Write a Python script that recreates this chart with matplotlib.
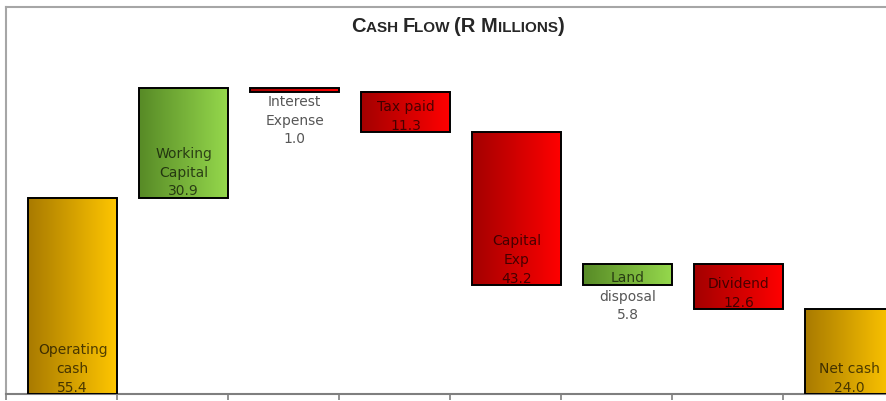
import matplotlib
matplotlib.use("Agg")
import matplotlib.pyplot as plt
import numpy as np
from matplotlib.colors import to_rgb
from matplotlib.offsetbox import TextArea, HPacker, AnnotationBbox

# data
labels = ["Operating\ncash", "Working\nCapital", "Interest\nExpense", "Tax paid",
          "Capital\nExp", "Land\ndisposal", "Dividend", "Net cash"]
values = [55.4, 30.9, -1.0, -11.3, -43.2, 5.8, -12.6, 24.0]
kinds = ["total", "up", "down", "down", "down", "up", "down", "total"]

# gradient colours per kind (left -> right)
grad = {
    "total": ("#a87a00", "#ffc600"),
    "up": ("#578a26", "#95d84c"),
    "down": ("#a30000", "#ff0000"),
}

# waterfall bottoms / heights
bottoms, heights = [], []
run = 0.0
for v, k in zip(values, kinds):
    if k == "total":
        bottoms.append(0.0)
        heights.append(v)
        run = v
    else:
        nxt = run + v
        bottoms.append(min(run, nxt))
        heights.append(abs(v))
        run = nxt

W, H = 886, 402
fig = plt.figure(figsize=(W / 100, H / 100), dpi=100)
ax = fig.add_axes([6 / W, 7 / H, 888 / W, 387 / H])
ax.set_xlim(0, 8)
ax.set_ylim(0, 109.3)

x = np.arange(len(values)) + 0.2
bars = ax.bar(x, heights, width=0.8, bottom=bottoms, align="edge",
              facecolor="none", edgecolor="black", linewidth=1.4, zorder=3)

for b, k in zip(bars, kinds):
    x0, y0 = b.get_x(), b.get_y()
    x1, y1 = x0 + b.get_width(), y0 + b.get_height()
    c0, c1 = np.array(to_rgb(grad[k][0])), np.array(to_rgb(grad[k][1]))
    t = np.linspace(0, 1, 256)[:, None]
    img = (c0 + (c1 - c0) * t)[None, :, :]
    ax.imshow(img, extent=[x0, x1, y0, y1], aspect="auto", zorder=2,
              interpolation="bilinear")

# labels
for b, lab, v in zip(bars, labels, values):
    cx = b.get_x() + b.get_width() / 2
    txt = f"{lab}\n{abs(v):.1f}"
    if b.get_height() < 8:
        ax.text(cx, b.get_y() + b.get_height() - 1.6, txt, ha="center", va="top",
                fontsize=10, color="black", alpha=0.66, linespacing=1.42, zorder=4)
    else:
        ax.text(cx, b.get_y() + 0.1, txt, ha="center", va="bottom",
                fontsize=10, color="black", alpha=0.66, linespacing=1.42, zorder=4,
                clip_on=False)

ax.set_xlim(0, 8)
ax.set_ylim(0, 109.3)
ax.spines["right"].set_visible(False)
for s in ["left", "top", "bottom"]:
    ax.spines[s].set_color("#a6a6a6")
    ax.spines[s].set_linewidth(1.5)
ax.spines["bottom"].set_color("#7f7f7f")
ax.set_yticks([])
ax.set_xticks(np.arange(0, 9))
ax.set_xticklabels([])
ax.tick_params(axis="x", direction="out", length=4, width=1.2, color="#7f7f7f")

# small-caps title
fam = ["Liberation Sans Narrow", "Liberation Sans", "DejaVu Sans"]
parts = [("C", 14.5), ("ASH ", 11), ("F", 14.5), ("LOW ", 11), ("(R M", 14.5),
         ("ILLIONS", 11), (")", 14.5)]
areas = [TextArea(s, textprops=dict(fontsize=fs, fontweight="bold", color="#262626",
                                    family=fam)) for s, fs in parts]
pack = HPacker(children=areas, align="baseline", pad=0, sep=0)
ab = AnnotationBbox(pack, (458 / W, 1 - 27 / H), xycoords="figure fraction",
                    frameon=False, box_alignment=(0.5, 0.5))
fig.add_artist(ab)

fig.savefig("out.png", dpi=100)
